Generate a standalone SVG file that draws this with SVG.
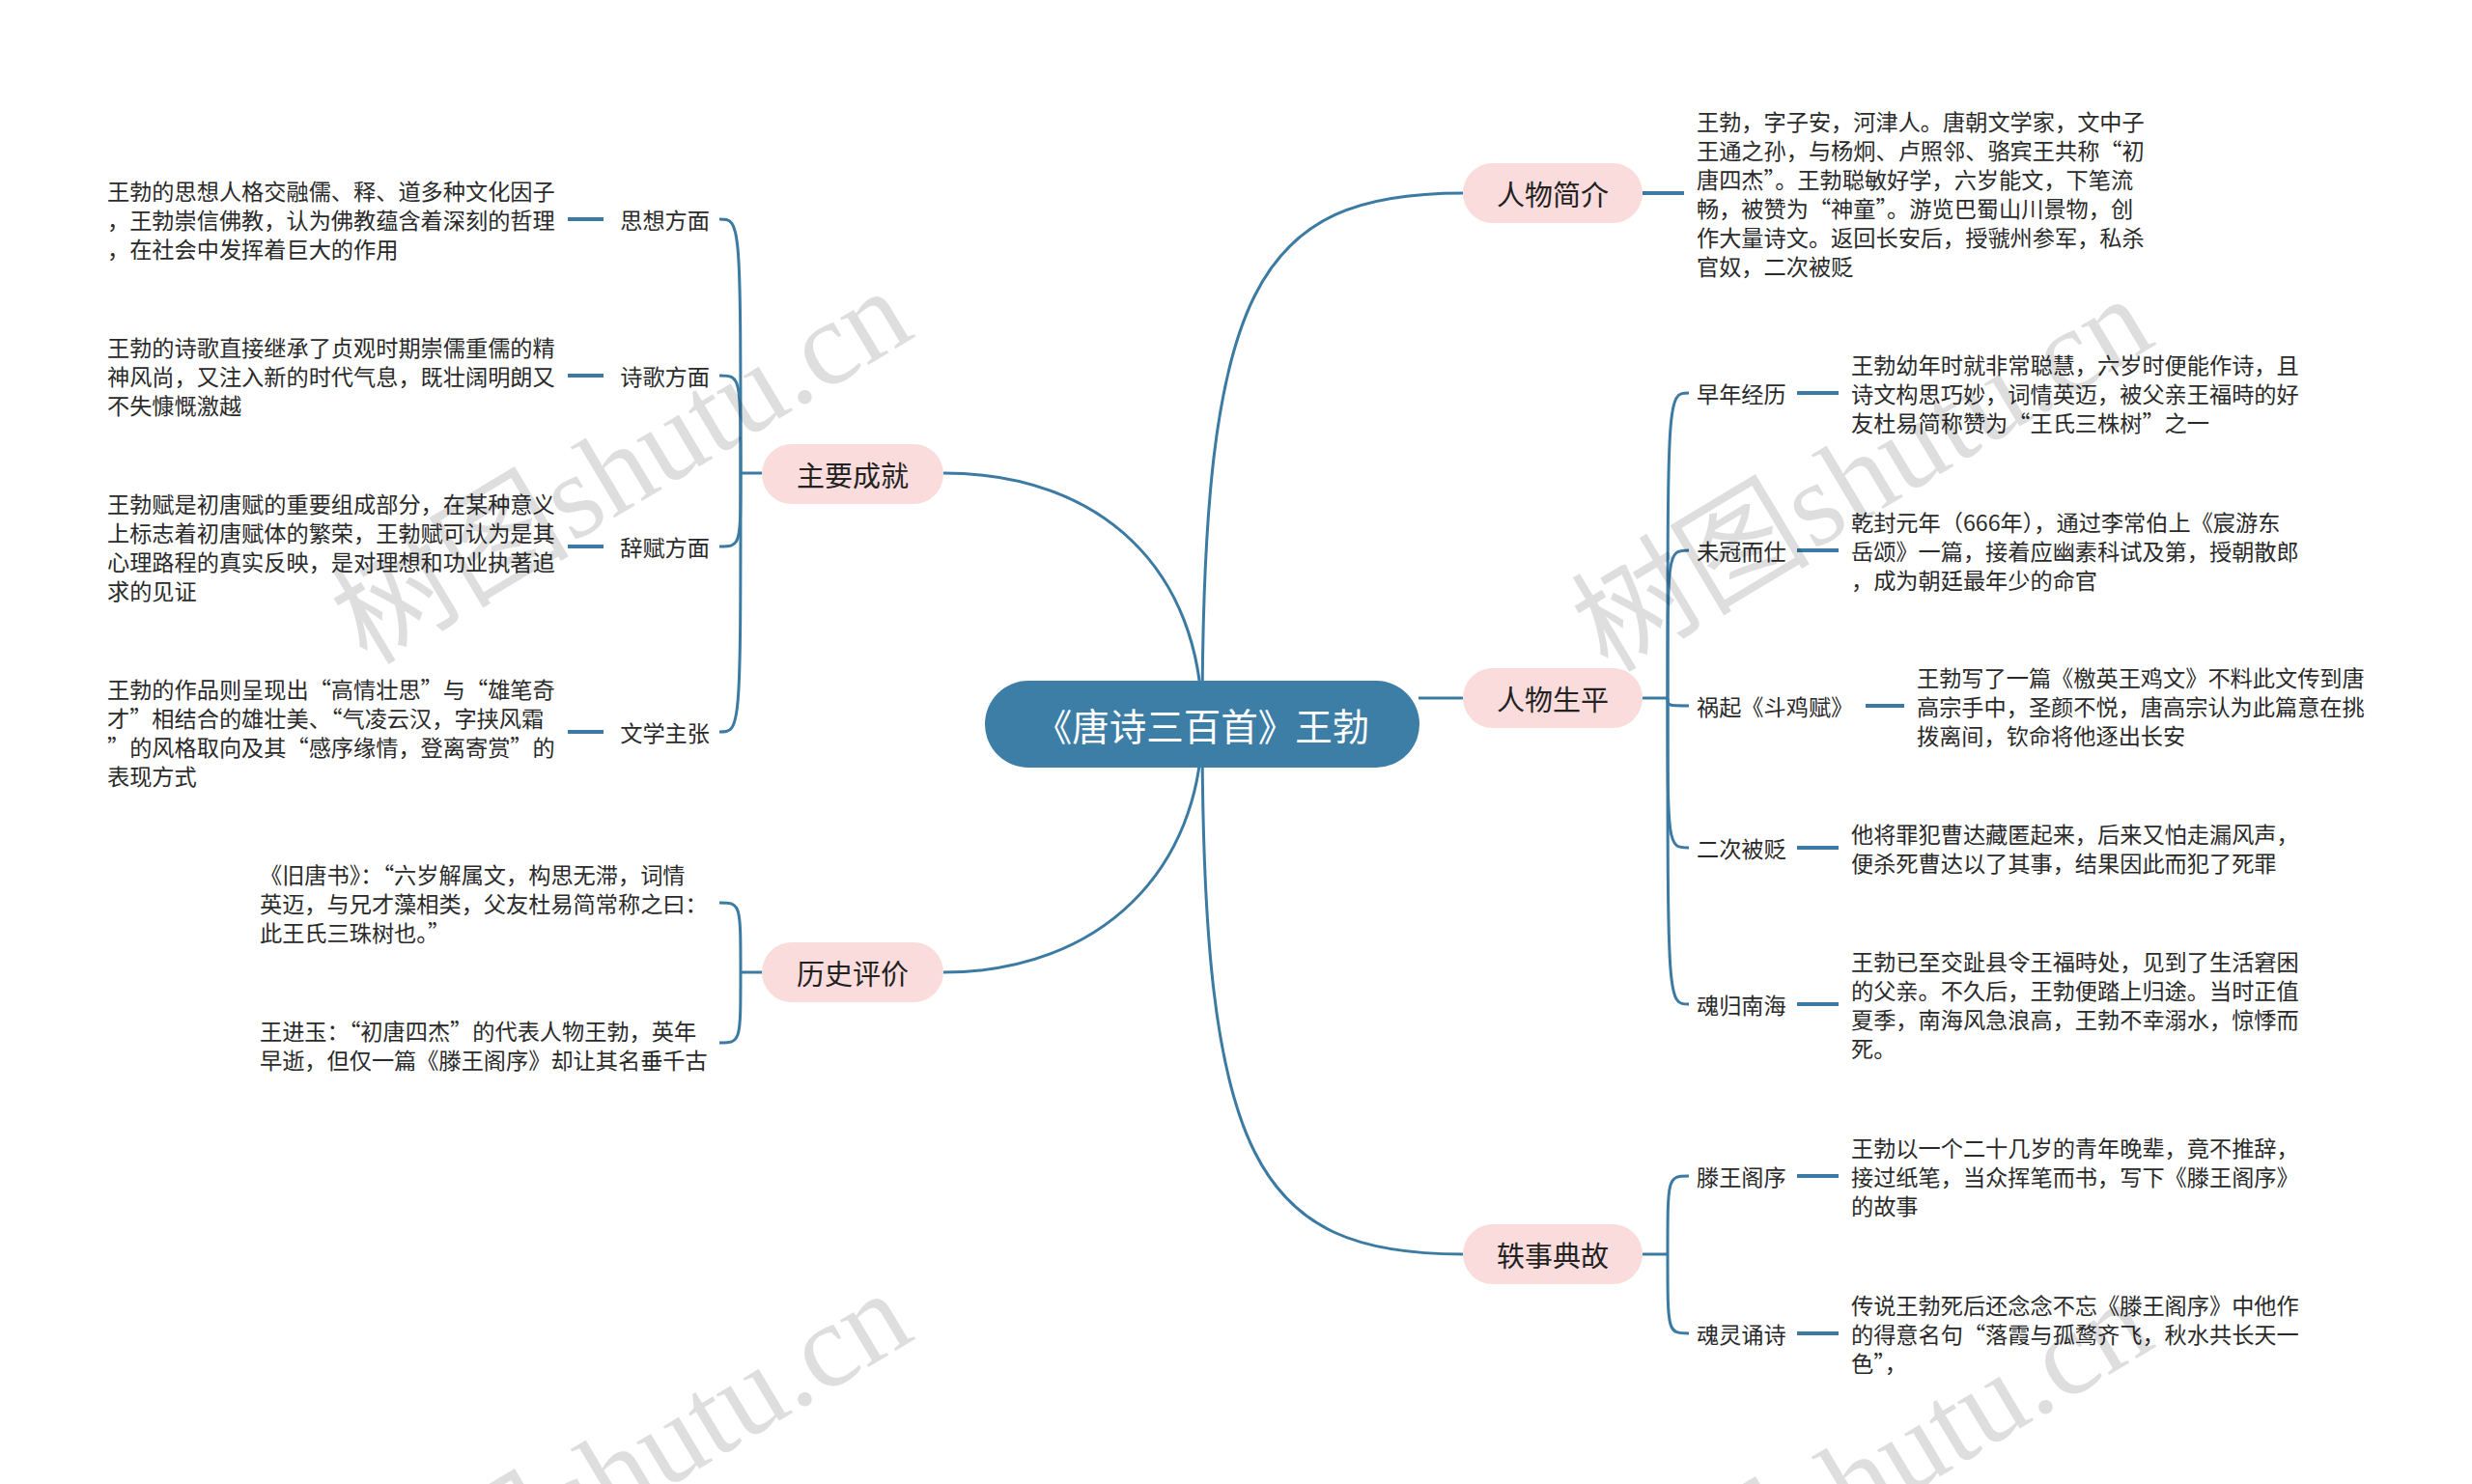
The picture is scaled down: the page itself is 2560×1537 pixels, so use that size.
<svg xmlns="http://www.w3.org/2000/svg" width="2560" height="1537" viewBox="0 0 2560 1537">
<style>
.bg{fill:#ffffff}
.edge{fill:none;stroke:#3a7aa3;stroke-width:3}
.stub{fill:none;stroke:#3a7aa3;stroke-width:4}
.root rect{fill:#3d7ea7}
.root text{fill:#ffffff;font-size:38.5px}
.main rect{fill:#fadcdc}
.main text{fill:#222222;font-size:29px}
text{font-family:"Noto Sans CJK SC","Noto Sans",sans-serif;dominant-baseline:central}
.lbl{fill:#2a2a2a;font-size:23.2px}
.txt{fill:#2a2a2a;font-size:23.2px}
.wm{font-family:"Liberation Serif","Noto Sans CJK SC",serif;font-size:124px;fill:#000000;fill-opacity:0.13;dominant-baseline:alphabetic}
</style>
<rect class="bg" x="0" y="0" width="2560" height="1537"/>

<g id="connectors">
  <path class="edge" d="M1245,750 C1245,590 1140,490 977,490"/>
  <path class="edge" d="M1245,750 C1245,900 1140,1007 977,1007"/>
  <path class="edge" d="M1245,750 C1245,300 1300,200 1515,200"/>
  <path class="edge" d="M1469,723 L1515,723"/>
  <path class="edge" d="M1245,750 C1245,1200 1300,1299 1515,1299"/>
  <path class="edge" d="M789,490 L767,490"/>
  <path class="edge" d="M767,490 C767,227 767,227 745,227"/>
  <path class="edge" d="M767,490 C767,389 767,389 745,389"/>
  <path class="edge" d="M767,490 C767,566 767,566 745,566"/>
  <path class="edge" d="M767,490 C767,758 767,758 745,758"/>
  <path class="stub" d="M588,227 L625,227"/>
  <path class="stub" d="M588,389 L625,389"/>
  <path class="stub" d="M588,566 L625,566"/>
  <path class="stub" d="M588,758 L625,758"/>
  <path class="edge" d="M789,1007 L767,1007"/>
  <path class="edge" d="M767,1007 C767,935 767,935 745,935"/>
  <path class="edge" d="M767,1007 C767,1080 767,1080 745,1080"/>
  <path class="stub" d="M1701,200 L1744,200"/>
  <path class="edge" d="M1701,723 L1727,723"/>
  <path class="edge" d="M1727,723 C1727,407 1727,407 1749,407"/>
  <path class="edge" d="M1727,723 C1727,570 1727,570 1749,570"/>
  <path class="edge" d="M1727,723 C1727,731 1727,731 1749,731"/>
  <path class="edge" d="M1727,723 C1727,878 1727,878 1749,878"/>
  <path class="edge" d="M1727,723 C1727,1040 1727,1040 1749,1040"/>
  <path class="stub" d="M1861,407 L1904,407"/>
  <path class="stub" d="M1861,570 L1904,570"/>
  <path class="stub" d="M1932,731 L1972,731"/>
  <path class="stub" d="M1861,878 L1904,878"/>
  <path class="stub" d="M1861,1040 L1904,1040"/>
  <path class="edge" d="M1701,1299 L1727,1299"/>
  <path class="edge" d="M1727,1299 C1727,1218 1727,1218 1749,1218"/>
  <path class="edge" d="M1727,1299 C1727,1381 1727,1381 1749,1381"/>
  <path class="stub" d="M1861,1218 L1904,1218"/>
  <path class="stub" d="M1861,1381 L1904,1381"/>
</g>

<g id="root" class="root">
  <rect x="1020" y="705" width="450" height="90" rx="45"/>
  <text x="1245" y="750" text-anchor="middle">《唐诗三百首》王勃</text>
</g>

<g id="n-zycj" class="main">
  <rect x="789" y="460" width="188" height="62" rx="31"/>
  <text x="883" y="491" text-anchor="middle">主要成就</text>
</g>
<g id="n-lspj" class="main">
  <rect x="789" y="976" width="188" height="62" rx="31"/>
  <text x="883" y="1007" text-anchor="middle">历史评价</text>
</g>
<g id="n-rwjj" class="main">
  <rect x="1515" y="169" width="186" height="62" rx="31"/>
  <text x="1608" y="200" text-anchor="middle">人物简介</text>
</g>
<g id="n-rwsp" class="main">
  <rect x="1515" y="692" width="186" height="62" rx="31"/>
  <text x="1608" y="723" text-anchor="middle">人物生平</text>
</g>
<g id="n-ysdg" class="main">
  <rect x="1515" y="1268" width="186" height="62" rx="31"/>
  <text x="1608" y="1299" text-anchor="middle">轶事典故</text>
</g>

<g id="n-sxfm">
  <text class="lbl" x="735" y="227" text-anchor="end">思想方面</text>
</g>
<g id="t-sxfm">
  <text class="txt" x="111"><tspan x="111" y="197">王勃的思想人格交融儒、释、道多种文化因子</tspan><tspan x="111" y="227">，王勃崇信佛教，认为佛教蕴含着深刻的哲理</tspan><tspan x="111" y="257">，在社会中发挥着巨大的作用</tspan></text>
</g>
<g id="n-sgfm">
  <text class="lbl" x="735" y="389" text-anchor="end">诗歌方面</text>
</g>
<g id="t-sgfm">
  <text class="txt" x="111"><tspan x="111" y="359">王勃的诗歌直接继承了贞观时期崇儒重儒的精</tspan><tspan x="111" y="389">神风尚，又注入新的时代气息，既壮阔明朗又</tspan><tspan x="111" y="419">不失慷慨激越</tspan></text>
</g>
<g id="n-cffm">
  <text class="lbl" x="735" y="566" text-anchor="end">辞赋方面</text>
</g>
<g id="t-cffm">
  <text class="txt" x="111"><tspan x="111" y="521">王勃赋是初唐赋的重要组成部分，在某种意义</tspan><tspan x="111" y="551">上标志着初唐赋体的繁荣，王勃赋可认为是其</tspan><tspan x="111" y="581">心理路程的真实反映，是对理想和功业执著追</tspan><tspan x="111" y="611">求的见证</tspan></text>
</g>
<g id="n-wxzz">
  <text class="lbl" x="735" y="758" text-anchor="end">文学主张</text>
</g>
<g id="t-wxzz">
  <text class="txt" x="111"><tspan x="111" y="713">王勃的作品则呈现出“高情壮思”与“雄笔奇</tspan><tspan x="111" y="743">才”相结合的雄壮美、“气凌云汉，字挟风霜</tspan><tspan x="111" y="773">”的风格取向及其“感序缘情，登离寄赏”的</tspan><tspan x="111" y="803">表现方式</tspan></text>
</g>

<g id="t-jts">
  <text class="txt" x="269"><tspan x="269" y="905">《旧唐书》：“六岁解属文，构思无滞，词情</tspan><tspan x="269" y="935">英迈，与兄才藻相类，父友杜易简常称之曰：</tspan><tspan x="269" y="965">此王氏三珠树也。”</tspan></text>
</g>
<g id="t-wjy">
  <text class="txt" x="269"><tspan x="269" y="1067">王进玉：“初唐四杰”的代表人物王勃，英年</tspan><tspan x="269" y="1097">早逝，但仅一篇《滕王阁序》却让其名垂千古</tspan></text>
</g>

<g id="t-rwjj">
  <text class="txt" x="1757"><tspan x="1757" y="125">王勃，字子安，河津人。唐朝文学家，文中子</tspan><tspan x="1757" y="155">王通之孙，与杨炯、卢照邻、骆宾王共称“初</tspan><tspan x="1757" y="185">唐四杰”。王勃聪敏好学，六岁能文，下笔流</tspan><tspan x="1757" y="215">畅，被赞为“神童”。游览巴蜀山川景物，创</tspan><tspan x="1757" y="245">作大量诗文。返回长安后，授虢州参军，私杀</tspan><tspan x="1757" y="275">官奴，二次被贬</tspan></text>
</g>

<g id="n-znjl">
  <text class="lbl" x="1757" y="407">早年经历</text>
</g>
<g id="t-znjl">
  <text class="txt" x="1917"><tspan x="1917" y="377">王勃幼年时就非常聪慧，六岁时便能作诗，且</tspan><tspan x="1917" y="407">诗文构思巧妙，词情英迈，被父亲王福時的好</tspan><tspan x="1917" y="437">友杜易简称赞为“王氏三株树”之一</tspan></text>
</g>
<g id="n-wges">
  <text class="lbl" x="1757" y="570">未冠而仕</text>
</g>
<g id="t-wges">
  <text class="txt" x="1917"><tspan x="1917" y="540">乾封元年（666年），通过李常伯上《宸游东</tspan><tspan x="1917" y="570">岳颂》一篇，接着应幽素科试及第，授朝散郎</tspan><tspan x="1917" y="600">，成为朝廷最年少的命官</tspan></text>
</g>
<g id="n-hqdjf">
  <text class="lbl" x="1757" y="731">祸起《斗鸡赋》</text>
</g>
<g id="t-hqdjf">
  <text class="txt" x="1985"><tspan x="1985" y="701">王勃写了一篇《檄英王鸡文》不料此文传到唐</tspan><tspan x="1985" y="731">高宗手中，圣颜不悦，唐高宗认为此篇意在挑</tspan><tspan x="1985" y="761">拨离间，钦命将他逐出长安</tspan></text>
</g>
<g id="n-ecbb">
  <text class="lbl" x="1757" y="878">二次被贬</text>
</g>
<g id="t-ecbb">
  <text class="txt" x="1917"><tspan x="1917" y="863">他将罪犯曹达藏匿起来，后来又怕走漏风声，</tspan><tspan x="1917" y="893">便杀死曹达以了其事，结果因此而犯了死罪</tspan></text>
</g>
<g id="n-hgnh">
  <text class="lbl" x="1757" y="1040">魂归南海</text>
</g>
<g id="t-hgnh">
  <text class="txt" x="1917"><tspan x="1917" y="995">王勃已至交趾县令王福時处，见到了生活窘困</tspan><tspan x="1917" y="1025">的父亲。不久后，王勃便踏上归途。当时正值</tspan><tspan x="1917" y="1055">夏季，南海风急浪高，王勃不幸溺水，惊悸而</tspan><tspan x="1917" y="1085">死。</tspan></text>
</g>

<g id="n-twgx">
  <text class="lbl" x="1757" y="1218">滕王阁序</text>
</g>
<g id="t-twgx">
  <text class="txt" x="1917"><tspan x="1917" y="1188">王勃以一个二十几岁的青年晚辈，竟不推辞，</tspan><tspan x="1917" y="1218">接过纸笔，当众挥笔而书，写下《滕王阁序》</tspan><tspan x="1917" y="1248">的故事</tspan></text>
</g>
<g id="n-hlss">
  <text class="lbl" x="1757" y="1381">魂灵诵诗</text>
</g>
<g id="t-hlss">
  <text class="txt" x="1917"><tspan x="1917" y="1351">传说王勃死后还念念不忘《滕王阁序》中他作</tspan><tspan x="1917" y="1381">的得意名句“落霞与孤鹜齐飞，秋水共长天一</tspan><tspan x="1917" y="1411">色”，</tspan></text>
</g>

<g id="watermarks">
  <text class="wm" transform="translate(380,690) rotate(-31)">树图shutu.cn</text>
  <text class="wm" transform="translate(1665,698) rotate(-31)">树图shutu.cn</text>
  <text class="wm" transform="translate(380,1728) rotate(-31)">树图shutu.cn</text>
  <text class="wm" transform="translate(1665,1736) rotate(-31)">树图shutu.cn</text>
</g>
</svg>
